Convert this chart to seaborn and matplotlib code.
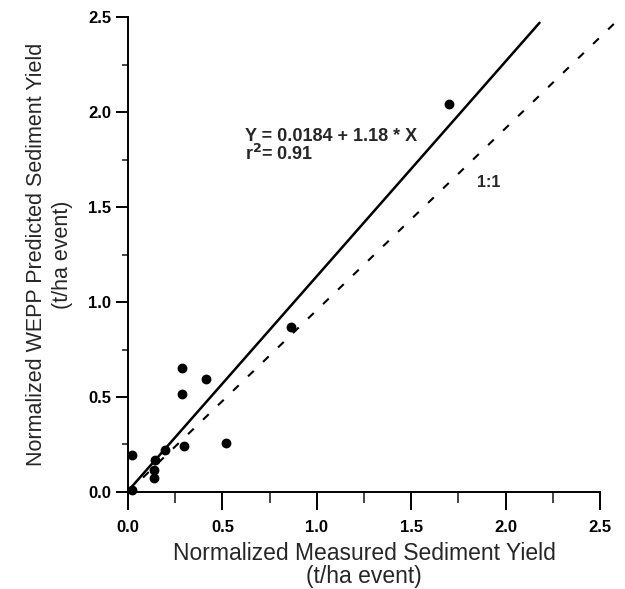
import matplotlib
matplotlib.use("Agg")
import numpy as np
import pandas as pd
import seaborn as sns
import matplotlib.pyplot as plt
from matplotlib.ticker import MultipleLocator

# Data
measured = [0.02, 0.02, 0.14, 0.14, 0.143, 0.196, 0.287, 0.287, 0.296, 0.411, 0.52, 0.862, 1.70]
predicted = [0.01, 0.195, 0.074, 0.115, 0.168, 0.221, 0.654, 0.514, 0.242, 0.593, 0.256, 0.87, 2.04]

# regression line as drawn
fit_x = [0.0, 2.18]
fit_y = [0.005, 2.47]
# 1:1 line as drawn
one_x = [0.0, 2.58]
one_y = [0.0, 2.47]

ticks = [0.0, 0.5, 1.0, 1.5, 2.0, 2.5]
tick_labels = ["0.0", "0.5", "1.0", "1.5", "2.0", "2.5"]

sns.set_style("ticks")
plt.rcParams["font.family"] = ["Liberation Sans", "DejaVu Sans"]

fig = plt.figure(figsize=(6.25, 5.89), dpi=100)
ax = fig.add_axes([0.2048, 0.1647, 0.7552, 0.8064])

df = pd.DataFrame({"measured": measured, "predicted": predicted})
sns.scatterplot(data=df, x="measured", y="predicted", ax=ax, color="black",
                s=50, edgecolor="black", linewidth=0, zorder=3, clip_on=False)
sns.lineplot(x=fit_x, y=fit_y, ax=ax, color="black", linewidth=1.8, clip_on=False)
sns.lineplot(x=one_x, y=one_y, ax=ax, color="black", linewidth=1.5, clip_on=False)
ax.lines[-1].set_dashes((3.8, 6.2))

ax.set_xlim(0, 2.5)
ax.set_ylim(0, 2.5)
ax.set_xticks(ticks)
ax.set_xticklabels(tick_labels)
ax.set_yticks(ticks)
ax.set_yticklabels(tick_labels)
ax.xaxis.set_minor_locator(MultipleLocator(0.25))
ax.yaxis.set_minor_locator(MultipleLocator(0.25))

for sp in ["top", "right"]:
    ax.spines[sp].set_visible(False)
for sp in ["left", "bottom"]:
    ax.spines[sp].set_linewidth(1.4)
    ax.spines[sp].set_color("black")

ax.tick_params(axis="x", which="major", direction="out", length=13, width=1.4, pad=7,
               labelsize=12, colors="black")
ax.tick_params(axis="x", which="minor", direction="out", length=8, width=1.2)
ax.tick_params(axis="y", which="major", direction="out", length=9, width=1.4, pad=3,
               labelsize=12, colors="black")
ax.tick_params(axis="y", which="minor", direction="out", length=4.5, width=1.2)
for lab in ax.get_xticklabels() + ax.get_yticklabels():
    lab.set_fontweight("bold")

ax.set_xlabel("Normalized Measured Sediment Yield\n(t/ha event)", fontsize=16.5,
              labelpad=5, linespacing=1.0)
ax.set_ylabel("Normalized WEPP Predicted Sediment Yield\n(t/ha event)", fontsize=15.5,
              labelpad=11, linespacing=1.3)

ax.text(0.62, 1.85, "Y = 0.0184 + 1.18 * X", fontsize=13, va="baseline", ha="left",
        fontweight="bold")
ax.text(0.62, 1.745, "r$^\\mathbf{2}$= 0.91", fontsize=13, va="baseline", ha="left",
        fontweight="bold")
ax.text(1.85, 1.63, "1:1", fontsize=11.5, va="center", ha="left", fontweight="bold")

fig.savefig("out.png", dpi=100)
